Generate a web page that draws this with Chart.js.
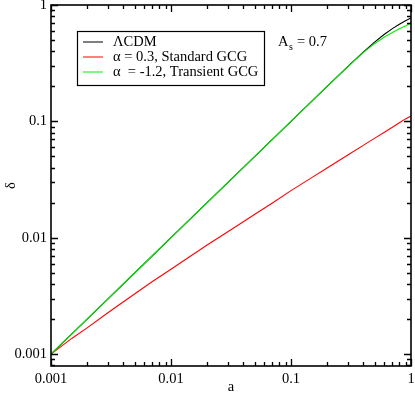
<!DOCTYPE html>
<html>
<head>
<meta charset="utf-8">
<script src="https://cdn.jsdelivr.net/npm/chart.js@4/dist/chart.umd.min.js"></script>
<style>
  html, body { margin: 0; padding: 0; background: #fff; }
  #wrap { width: 415px; height: 393px; }
</style>
</head>
<body>
<div id="wrap"><canvas id="chart" width="415" height="393"></canvas></div>
<script>
// scale factor a (shared by all curves)
const scaleFactor = [0.001, 0.0015, 0.002, 0.003, 0.005, 0.007, 0.01, 0.02, 0.03, 0.05, 0.07,
  0.1, 0.15, 0.2, 0.3, 0.4, 0.5, 0.6, 0.7, 0.8, 0.9, 1.0];

// density contrast delta for each model
const deltaLCDM = [0.001, 0.0015, 0.002, 0.003, 0.005, 0.007, 0.01, 0.02, 0.03, 0.05, 0.07,
  0.1, 0.15, 0.2, 0.2985, 0.394, 0.4825, 0.561, 0.6265, 0.684, 0.7335, 0.775];
const deltaStandard = [0.001, 0.00137, 0.00168, 0.00228, 0.0033, 0.0042, 0.00536, 0.00865, 0.0113, 0.0159, 0.0199,
  0.0254, 0.033, 0.0398, 0.0516, 0.0622, 0.0718, 0.0807, 0.0891, 0.0972, 0.105, 0.111];
const deltaTransient = [0.001, 0.0015, 0.002, 0.003, 0.005, 0.007, 0.01, 0.02, 0.03, 0.05, 0.07,
  0.1, 0.15, 0.2, 0.297, 0.39, 0.4675, 0.531, 0.581, 0.624, 0.6615, 0.70];

const seriesLabels = ['\u039BCDM', '\u03B1 = 0.3, Standard GCG', '\u03B1  = -1.2, Transient GCG'];
const seriesColors = ['#000000', '#ff0000', '#00ee00'];

const xTicks = [0.001, 0.01, 0.1, 1];
const xTickLabels = ['0.001', '0.01', '0.1', '1'];
const yTicks = [0.001, 0.01, 0.1, 1];
const yTickLabels = ['0.001', '0.01', '0.1', '1'];

const serif = "'Liberation Serif', 'Times New Roman', 'DejaVu Serif', serif";

const toPoints = ys => scaleFactor.map((a, i) => ({ x: a, y: ys[i] }));

// inward major/minor ticks on all four sides + frame
const frameTicks = {
  id: 'frameTicks',
  afterDatasetsDraw(chart) {
    const { ctx, chartArea: ca, scales } = chart;
    const xs = scales.x, ys = scales.y;
    ctx.save();
    ctx.strokeStyle = '#000';
    ctx.lineWidth = 1.3;
    const minorVals = (min, max) => {
      const out = [];
      for (let e = -4; e <= 0; e++) {
        for (let m = 1; m <= 9; m++) {
          const v = m * Math.pow(10, e);
          if (v >= min * 0.999 && v <= max * 1.001) out.push({ v, major: m === 1 });
        }
      }
      return out;
    };
    minorVals(xs.min, xs.max).forEach(t => {
      const px = Math.round(xs.getPixelForValue(t.v)) + 0.5;
      const len = t.major ? 7 : 4;
      ctx.beginPath();
      ctx.moveTo(px, ca.bottom); ctx.lineTo(px, ca.bottom - len);
      ctx.moveTo(px, ca.top); ctx.lineTo(px, ca.top + len);
      ctx.stroke();
    });
    minorVals(ys.min, ys.max).forEach(t => {
      const py = Math.round(ys.getPixelForValue(t.v)) + 0.5;
      const len = t.major ? 7 : 4;
      ctx.beginPath();
      ctx.moveTo(ca.left, py); ctx.lineTo(ca.left + len, py);
      ctx.moveTo(ca.right, py); ctx.lineTo(ca.right - len, py);
      ctx.stroke();
    });
    ctx.lineWidth = 1.6;
    ctx.strokeRect(ca.left, ca.top, ca.right - ca.left, ca.bottom - ca.top);

    // legend box
    const bx = 77, by = 31, bw = 187, bh = 54;
    ctx.fillStyle = '#fff';
    ctx.fillRect(bx, by, bw, bh);
    ctx.lineWidth = 1.2;
    ctx.strokeStyle = '#000';
    ctx.strokeRect(bx + 0.5, by + 0.5, bw, bh);
    const rows = [41.5, 56.5, 71.5];
    ctx.font = '14.5px ' + serif;
    ctx.textBaseline = 'middle';
    ctx.textAlign = 'left';
    chart.data.datasets.forEach((ds, i) => {
      ctx.strokeStyle = ds.borderColor;
      ctx.lineWidth = 1;
      ctx.beginPath();
      ctx.moveTo(83, rows[i] + 0.5); ctx.lineTo(103, rows[i] + 0.5);
      ctx.stroke();
      ctx.fillStyle = '#000';
      ctx.fillText(ds.label, 113, rows[i] + 1);
    });

    // A_s annotation
    ctx.fillStyle = '#000';
    ctx.font = '14.5px ' + serif;
    ctx.fillText('A', 278, 42);
    ctx.font = '10px ' + serif;
    ctx.fillText('s', 289, 47);
    ctx.font = '14.5px ' + serif;
    ctx.fillText('= 0.7', 297, 42);
    ctx.restore();
  }
};

new Chart(document.getElementById('chart'), {
  type: 'line',
  data: {
    datasets: [
      { label: seriesLabels[0], data: toPoints(deltaLCDM), borderColor: seriesColors[0], order: 2 },
      { label: seriesLabels[1], data: toPoints(deltaStandard), borderColor: seriesColors[1], order: 1 },
      { label: seriesLabels[2], data: toPoints(deltaTransient), borderColor: seriesColors[2], order: 0 }
    ]
  },
  options: {
    responsive: false,
    animation: false,
    devicePixelRatio: 1,
    layout: { padding: { left: 0, top: 5, right: 4, bottom: 0 } },
    elements: {
      line: { borderWidth: 1.1, tension: 0, fill: false },
      point: { radius: 0 }
    },
    plugins: {
      legend: { display: false },
      tooltip: { enabled: false }
    },
    scales: {
      x: {
        type: 'logarithmic',
        min: 0.001,
        max: 1,
        grid: { display: false, drawTicks: false },
        border: { display: false },
        afterBuildTicks: s => { s.ticks = xTicks.map(v => ({ value: v })); },
        afterFit: s => { s.height = 27; s.paddingLeft = 0; s.paddingRight = 0; },
        ticks: {
          padding: 4,
          autoSkip: false,
          maxRotation: 0,
          color: '#000',
          font: { family: serif, size: 14.5 },
          callback: v => xTickLabels[xTicks.indexOf(v)]
        },
        title: {
          display: true,
          text: 'a',
          color: '#000',
          font: { family: serif, size: 14.5, lineHeight: 0.8 },
          padding: { top: 0, bottom: 0 }
        }
      },
      y: {
        type: 'logarithmic',
        min: 0.00079,
        max: 1,
        grid: { display: false, drawTicks: false },
        border: { display: false },
        afterBuildTicks: s => { s.ticks = yTicks.map(v => ({ value: v })); },
        afterFit: s => { s.width = 51; s.paddingTop = 0; s.paddingBottom = 0; },
        ticks: {
          padding: 4,
          autoSkip: false,
          color: '#000',
          font: { family: serif, size: 14.5 },
          callback: v => yTickLabels[yTicks.indexOf(v)]
        },
        title: {
          display: true,
          text: '\u03B4',
          color: '#000',
          font: { family: serif, size: 14.5 },
          padding: { top: 2, bottom: 0 }
        }
      }
    }
  },
  plugins: [frameTicks]
});
</script>
</body>
</html>
